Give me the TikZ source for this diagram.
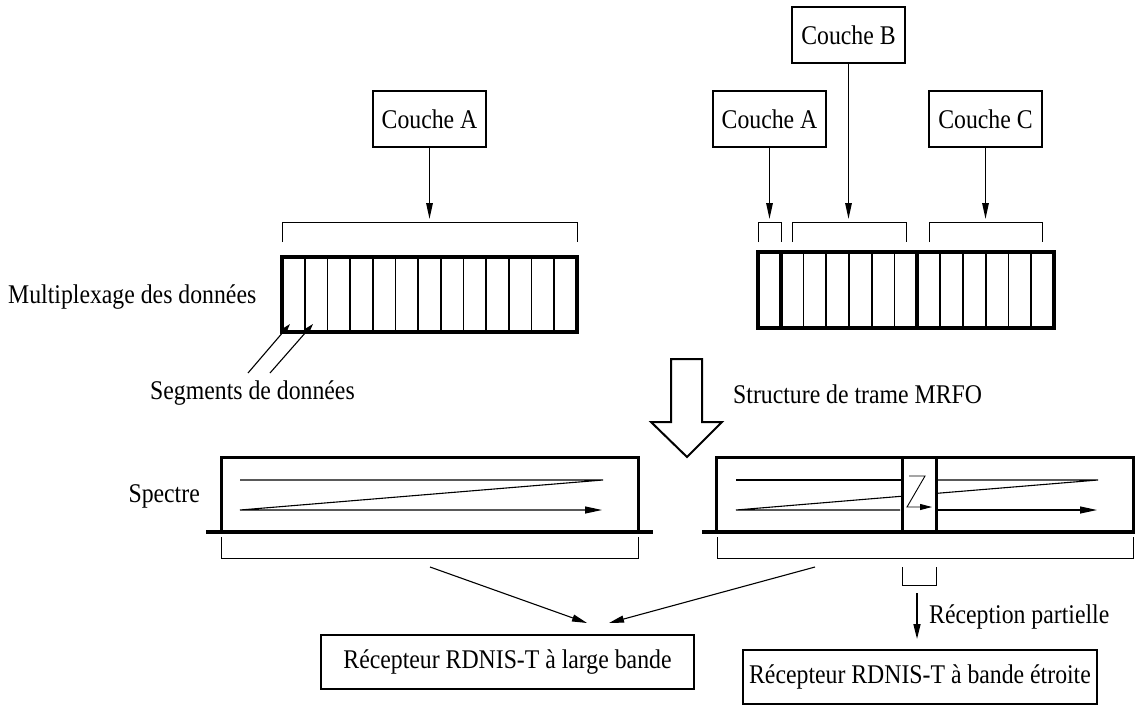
\documentclass[tikz,border=0pt]{standalone}
\usepackage{fontspec}
\setmainfont{Liberation Serif}[FakeStretch=0.88]
\usetikzlibrary{arrows.meta}
\begin{document}
\begin{tikzpicture}[x=1pt,y=-1pt,
  every node/.style={font=\fontsize{27}{32}\selectfont},
  layer/.style={draw, line width=1.8pt, minimum width=113pt, minimum height=56pt, inner sep=0pt},
  recv/.style={draw, line width=1.4pt, minimum height=54pt, inner sep=0pt},
  lbl/.style={inner sep=0pt},
  arr/.style={line width=1.5pt, -{Triangle[length=16pt,width=6.5pt]}},
  sarr/.style={line width=1.1pt, -{Triangle[length=15pt,width=7pt]}},
  segarr/.style={line width=1.1pt, -{Triangle[length=10pt,width=6pt]}},
  brk/.style={line width=0.8pt},
  blk/.style={line width=3.5pt},
  thin/.style={line width=1.7pt},
  spec/.style={line width=3pt},
  base/.style={line width=4pt},
  inner/.style={line width=1.1pt}]
\useasboundingbox (0,0) rectangle (1148,707);

% layer boxes
\node[layer] (la) at (429.5,119) {Couche A};
\node[layer] (ra) at (769.5,119) {Couche A};
\node[layer] (rb) at (848.5,35) {Couche B};
\node[layer] (rc) at (985.5,119) {Couche C};

% bracket tops
\coordinate (bla) at (429.5,219);
\coordinate (bra) at (769.5,219);
\coordinate (brb) at (848.5,219);
\coordinate (brc) at (985.5,219);
\draw[arr] (la.south) -- (bla);
\draw[arr] (ra.south) -- (bra);
\draw[arr] (rb.south) -- (brb);
\draw[arr] (rc.south) -- (brc);

% brackets above blocks
\draw[brk] (282,242) -- (282,222) -- (577,222) -- (577,242);
\draw[brk] (758,242) -- (758,222) -- (781,222) -- (781,242);
\draw[brk] (792,242) -- (792,222) -- (906,222) -- (906,242);
\draw[brk] (929,242) -- (929,222) -- (1042,222) -- (1042,242);

% left segment block
\foreach \k in {1,...,12} {
  \draw[thin] ({282+\k*22.69},257) -- ({282+\k*22.69},332);
}
\draw[blk] (282,257) rectangle (577,332);

% right segment block
\foreach \k in {2,...,6,8,9,...,12} {
  \draw[thin] ({758+\k*22.77},252) -- ({758+\k*22.77},328);
}
\draw[blk] (781,252) -- (781,328);
\draw[blk] (917,252) -- (917,328);
\draw[blk] (758,252) rectangle (1054,328);

% labels
\node[lbl, anchor=base west] (mux) at (8,303) {Multiplexage des données};
\node[lbl, anchor=base west] (seg) at (150,399) {Segments de données};
\node[lbl, anchor=base west] (mrfo) at (733,403) {Structure de trame MRFO};
\node[lbl, anchor=base east] (spc) at (200,502) {Spectre};

% segment arrows
\coordinate (s1) at (248,373);
\coordinate (s2) at (270,373);
\coordinate (t1) at (290,324);
\coordinate (t2) at (313,324);
\draw[segarr] (s1) -- (t1);
\draw[segarr] (s2) -- (t2);

% big arrow
\draw[line width=2pt, line join=miter] (671,359) -- (702,359) -- (702,422) -- (722,422) -- (687,457) -- (651,422) -- (671,422) -- cycle;

% left spectrum
\draw[spec] (221,532) -- (221,457) -- (638,457) -- (638,532);
\draw[base] (206,532) -- (653,532);
\draw[inner, -{Triangle[length=17pt,width=7pt]}] (240,480) -- (603,480) -- (240,510) -- (602,510);

% right spectrum
\draw[spec] (716,532) -- (716,457) -- (1133,457) -- (1133,532);
\draw[spec] (902,457) -- (902,532);
\draw[spec] (936,457) -- (936,532);
\draw[base] (702,532) -- (1135,532);
\draw[inner] (736,480) -- (901,480);
\draw[inner] (937,480) -- (1098,480) -- (937,493.3);
\draw[inner] (901,496.3) -- (736,510) -- (900,510);
\draw[inner, -{Triangle[length=17pt,width=7pt]}] (937,510) -- (1097,510);
\draw[line width=0.9pt, -{Triangle[length=12pt,width=6pt]}] (909,476) -- (925,476) -- (907,507) -- (932,507);

% brackets below spectra
\draw[brk] (221,537) -- (221,558) -- (638,558) -- (638,537);
\draw[brk] (717,537) -- (717,558) -- (1133,558) -- (1133,537);
\draw[brk] (902,567) -- (902,585) -- (936,585) -- (936,567);

% receivers
\node[recv, minimum width=373pt] (wide) at (507.5,662) {Récepteur RDNIS-T à large bande};
\node[recv, minimum width=354pt] (narrow) at (920,677) {Récepteur RDNIS-T à bande étroite};

\coordinate (w1) at (430,567);
\coordinate (w2) at (815,567);
\coordinate (wt1) at (587,623);
\coordinate (wt2) at (609,623);
\draw[sarr] (w1) -- (wt1);
\draw[sarr] (w2) -- (wt2);

\coordinate (p1) at (917,593);
\coordinate (p2) at (917,639);
\draw[sarr, line width=1.5pt] (p1) -- (p2);
\node[lbl, anchor=base west] (part) at (929,623) {Réception partielle};
\end{tikzpicture}
\end{document}
